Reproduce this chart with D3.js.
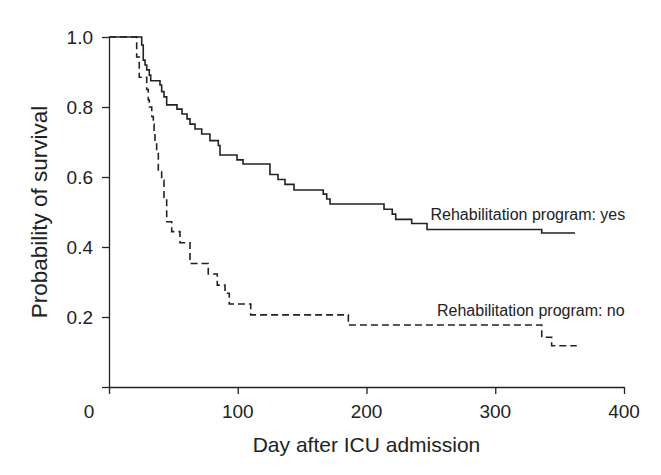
<!DOCTYPE html>
<html>
<head>
<meta charset="utf-8">
<script src="https://cdn.jsdelivr.net/npm/d3@7"></script>
<style>
  html, body { margin: 0; padding: 0; background: #fff; }
  svg { display: block; }
  text { font-family: "Liberation Sans", Arial, sans-serif; fill: #222; }
</style>
</head>
<body>
<svg id="chart" width="661" height="475"></svg>
<script>
// ---- data ----
const xTicks = [0, 100, 200, 300, 400];
const yTicks = [0, 0.2, 0.4, 0.6, 0.8, 1.0];
const yTickLabels = ["", "0.2", "0.4", "0.6", "0.8", "1.0"];

const yesDays = [0, 25.4, 26.6, 28.0, 29.3, 31.3, 32.4, 39.6, 40.9, 42.7, 44.8, 52.8, 56.7, 60.6, 62.9, 66.8, 72.0, 78.4, 84.9, 86.2, 99.4, 104.1, 125.0, 131.3, 136.7, 143.7, 166.4, 169.1, 171.7, 213.6, 220.0, 222.7, 235.1, 247.0, 336.1, 362.0];
const yesSurv = [1, 0.977, 0.934, 0.92, 0.906, 0.891, 0.875, 0.863, 0.844, 0.829, 0.806, 0.794, 0.78, 0.766, 0.751, 0.737, 0.723, 0.704, 0.69, 0.663, 0.649, 0.637, 0.607, 0.593, 0.579, 0.563, 0.551, 0.537, 0.523, 0.508, 0.494, 0.479, 0.467, 0.45, 0.44, 0.44];

const noDays = [0, 21.5, 23.5, 29.3, 30.5, 31.3, 33.2, 34.4, 35.0, 35.7, 37.0, 38.3, 40.9, 42.7, 44.8, 48.7, 55.1, 62.9, 77.1, 84.1, 90.1, 93.4, 110.1, 185.9, 336.1, 343.8, 363.3];
const noSurv = [1, 0.943, 0.885, 0.85, 0.82, 0.80, 0.773, 0.751, 0.728, 0.70, 0.676, 0.615, 0.591, 0.534, 0.472, 0.444, 0.412, 0.353, 0.323, 0.291, 0.268, 0.237, 0.206, 0.177, 0.142, 0.118, 0.118];

const seriesLabels = ["Rehabilitation program: yes", "Rehabilitation program: no"];
const xTitle = "Day after ICU admission";
const yTitle = "Probability of survival";

// ---- layout ----
const svg = d3.select("#chart");
const x = d3.scaleLinear().domain([0, 400]).range([109, 624]);
const y = d3.scaleLinear().domain([0, 1]).range([387, 37]);
const ink = "#222";

// axes
const xAxis = svg.append("g").attr("transform", `translate(0,${y(0)})`)
  .call(d3.axisBottom(x).tickValues(xTicks).tickSize(7).tickSizeOuter(0).tickFormat(""));
const yAxis = svg.append("g").attr("transform", `translate(${x(0)},0)`)
  .call(d3.axisLeft(y).tickValues(yTicks).tickSize(7).tickSizeOuter(0).tickFormat(""));
[xAxis, yAxis].forEach(g => {
  g.select(".domain").attr("stroke", ink).attr("stroke-width", 1.3);
  g.selectAll(".tick line").attr("stroke", ink).attr("stroke-width", 1.3);
});

// x tick labels ("0" is offset to the left as in the reference)
svg.append("g").selectAll("text").data(xTicks).join("text")
  .attr("x", d => d === 0 ? x(0) - 20 : x(d))
  .attr("y", 418)
  .attr("text-anchor", "middle")
  .attr("font-size", 19)
  .text(d => String(d));

// y tick labels
svg.append("g").selectAll("text").data(yTicks).join("text")
  .attr("x", 93)
  .attr("y", d => y(d) + 7)
  .attr("text-anchor", "end")
  .attr("font-size", 19)
  .text((d, i) => yTickLabels[i]);

// titles
svg.append("text")
  .attr("x", (x(0) + x(400)) / 2).attr("y", 452)
  .attr("text-anchor", "middle").attr("font-size", 21)
  .text(xTitle);
svg.append("text")
  .attr("transform", `translate(46.5,${(y(0) + y(1)) / 2}) rotate(-90)`)
  .attr("text-anchor", "middle").attr("font-size", 22.5)
  .text(yTitle);

// curves
const line = d3.line().x(d => x(d[0])).y(d => y(d[1])).curve(d3.curveStepAfter);
const yesData = yesDays.map((d, i) => [d, yesSurv[i]]);
const noData = noDays.map((d, i) => [d, noSurv[i]]);

svg.append("path").datum(yesData)
  .attr("d", line).attr("fill", "none").attr("stroke", ink).attr("stroke-width", 1.6);
svg.append("path").datum(noData)
  .attr("d", line).attr("fill", "none").attr("stroke", ink).attr("stroke-width", 1.6)
  .attr("stroke-dasharray", "7,4");

// curve labels
svg.append("text").attr("x", 430.5).attr("y", 220).attr("font-size", 16).text(seriesLabels[0]);
svg.append("text").attr("x", 437).attr("y", 316).attr("font-size", 16).text(seriesLabels[1]);
</script>
</body>
</html>
